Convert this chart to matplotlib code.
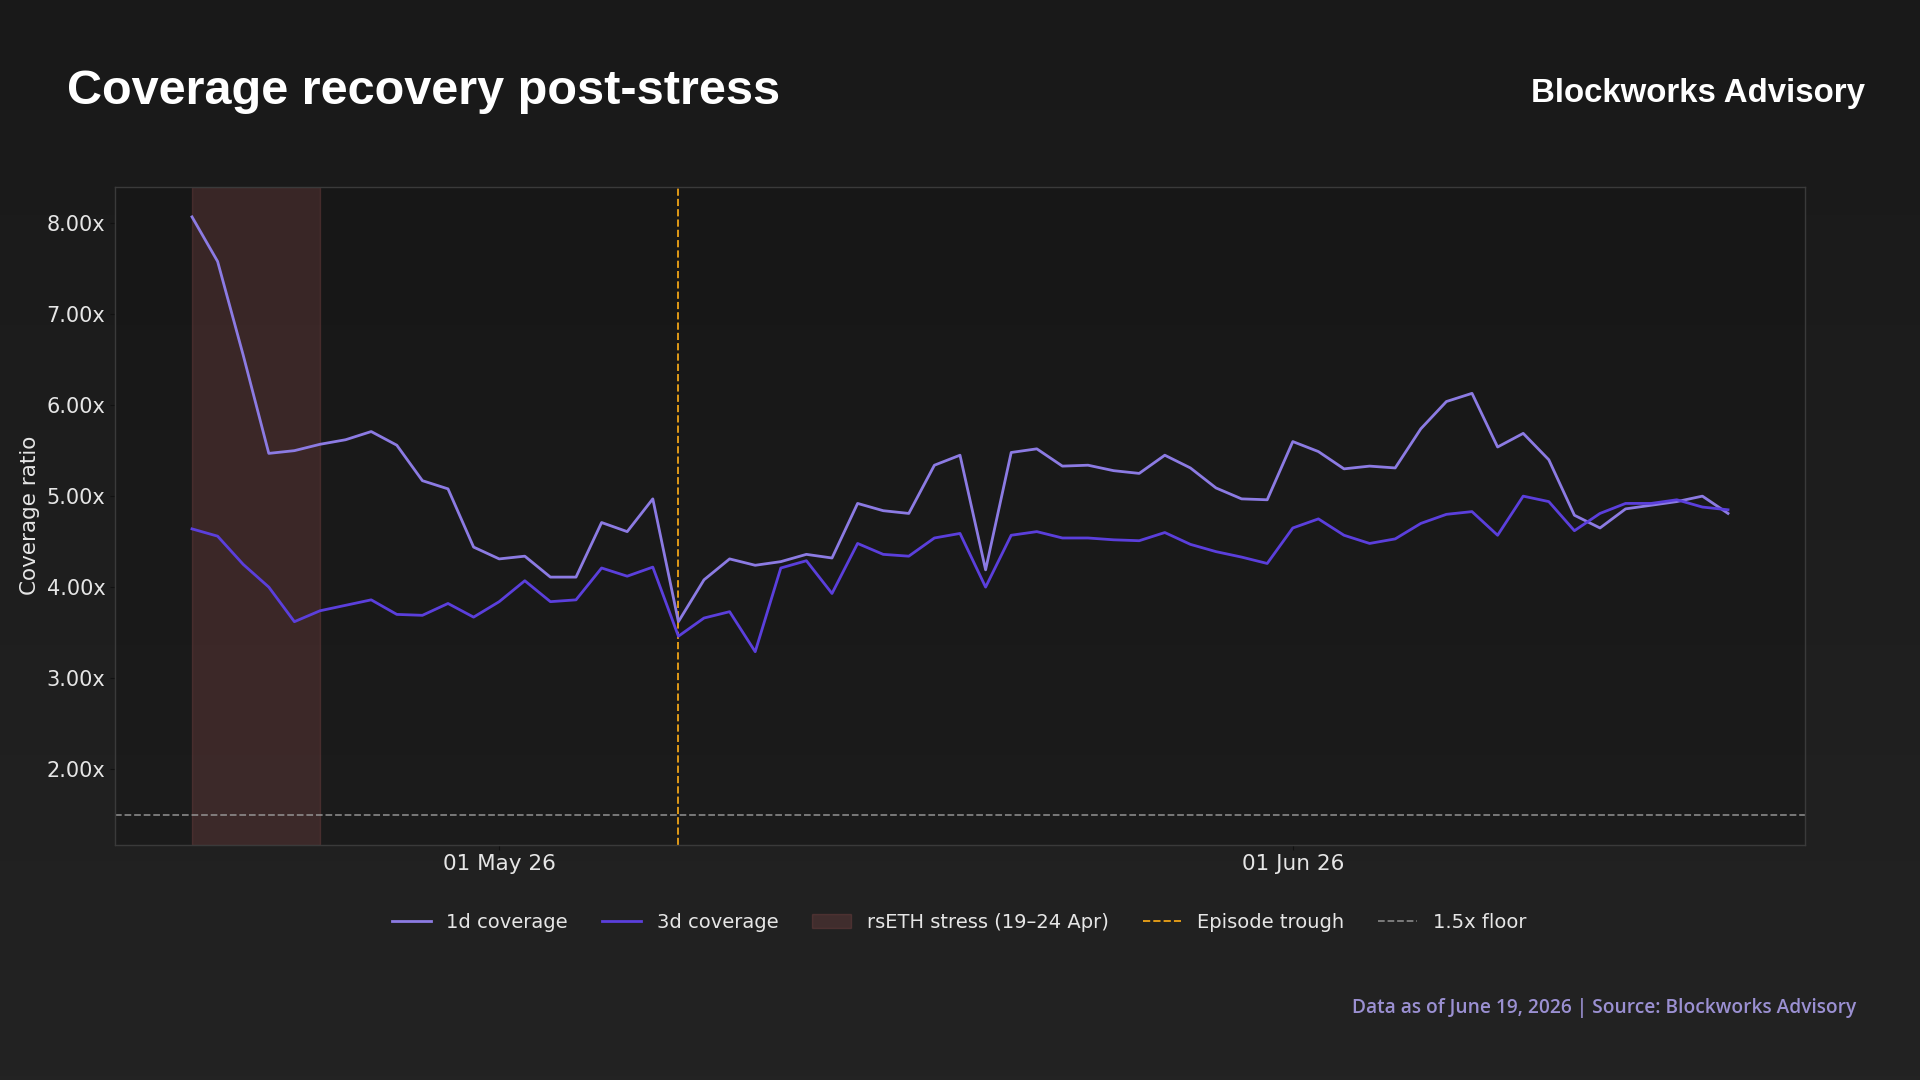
import pandas as pd
import numpy as np
import matplotlib
matplotlib.use('Agg')
import matplotlib.pyplot as plt
import matplotlib.dates as mdates
import matplotlib.ticker as mticker

plt.rcParams['font.family'] = ['DejaVu Sans']

# daily coverage ratios, 19 Apr - 18 Jun 2026
dates = pd.date_range('2026-04-19', '2026-06-18', freq='D')
cov_1d = [8.07, 7.58, 6.55, 5.47, 5.50, 5.57, 5.62, 5.71, 5.56, 5.17,
          5.08, 4.44, 4.31, 4.34, 4.11, 4.11, 4.71, 4.61, 4.97, 3.62,
          4.08, 4.31, 4.24, 4.28, 4.36, 4.32, 4.92, 4.84, 4.81, 5.34,
          5.45, 4.19, 5.48, 5.52, 5.33, 5.34, 5.28, 5.25, 5.45, 5.31,
          5.09, 4.97, 4.96, 5.60, 5.49, 5.30, 5.33, 5.31, 5.74, 6.04,
          6.13, 5.54, 5.69, 5.40, 4.79, 4.65, 4.86, 4.90, 4.94, 5.00,
          4.81]
cov_3d = [4.64, 4.56, 4.25, 4.00, 3.62, 3.74, 3.80, 3.86, 3.70, 3.69,
          3.82, 3.67, 3.84, 4.07, 3.84, 3.86, 4.21, 4.12, 4.22, 3.46,
          3.66, 3.73, 3.29, 4.21, 4.29, 3.93, 4.48, 4.36, 4.34, 4.54,
          4.59, 4.00, 4.57, 4.61, 4.54, 4.54, 4.52, 4.51, 4.60, 4.47,
          4.39, 4.33, 4.26, 4.65, 4.75, 4.57, 4.48, 4.53, 4.70, 4.80,
          4.83, 4.57, 5.00, 4.94, 4.62, 4.81, 4.92, 4.92, 4.96, 4.88,
          4.85]
stress_start = pd.Timestamp('2026-04-19')
stress_end = pd.Timestamp('2026-04-24')
trough_date = pd.Timestamp('2026-05-08')
floor_level = 1.5

fig = plt.figure(figsize=(19.2, 10.8), dpi=100)
fig.patch.set_facecolor('#1c1c1c')

# subtle vertical background gradient
bg = fig.add_axes([0, 0, 1, 1], zorder=-10)
grad = np.linspace(0, 1, 256).reshape(-1, 1)
top = np.array([0x19, 0x19, 0x19]) / 255
bot = np.array([0x23, 0x23, 0x23]) / 255
img = top + (bot - top) * grad[:, :, None]
bg.imshow(img, aspect='auto', extent=[0, 1, 0, 1])
bg.axis('off')

ax = fig.add_axes([0.060, 0.218, 0.880, 0.609])
ax.set_facecolor((0.07, 0.07, 0.07, 0.35))

ax.axvspan(stress_start, stress_end, color='#8b4a4a', alpha=0.30, lw=1,
           label='rsETH stress (19–24 Apr)', zorder=1)
ax.plot(dates, cov_1d, color='#8c7be3', lw=2.0, label='1d coverage', zorder=3)
ax.plot(dates, cov_3d, color='#5b3fdc', lw=2.0, label='3d coverage', zorder=3)
ax.axvline(trough_date, color='#e09a18', lw=1.4, ls='--', label='Episode trough', zorder=2)
ax.axhline(floor_level, color='#9a9a9a', lw=1.3, ls='--', alpha=0.8, label='1.5x floor', zorder=2)

ax.set_xlim(pd.Timestamp('2026-04-16'), pd.Timestamp('2026-06-21'))
ax.set_ylim(1.17, 8.40)
ax.set_yticks([2, 3, 4, 5, 6, 7, 8])
ax.yaxis.set_major_formatter(mticker.FuncFormatter(lambda v, p: f'{v:.2f}x'))
ax.xaxis.set_major_locator(mdates.MonthLocator(bymonthday=1))
ax.xaxis.set_major_formatter(mdates.DateFormatter('%d %b %y'))

ax.tick_params(axis='both', colors='#111111', labelcolor='#e6e6e6', labelsize=15)
ax.tick_params(axis='x', labelsize=15.5)
ax.set_ylabel('Coverage ratio', color='#e6e6e6', fontsize=15.5, labelpad=5)
for s in ax.spines.values():
    s.set_color('#3a3a3a')
    s.set_linewidth(1.0)

# legend order as in reference
h, l = ax.get_legend_handles_labels()
order = ['1d coverage', '3d coverage', 'rsETH stress (19–24 Apr)', 'Episode trough', '1.5x floor']
hm = dict(zip(l, h))
leg = fig.legend([hm[k] for k in order], order, loc='center', bbox_to_anchor=(0.4995, 0.146),
                 ncol=5, frameon=False, fontsize=14, labelcolor='#e6e6e6',
                 columnspacing=1.75, handletextpad=0.8)

fig.text(0.035, 0.904, 'Coverage recovery post-stress', color='white', fontsize=35,
         fontweight='bold', family='Liberation Sans', va='baseline', ha='left')
fig.text(0.9714, 0.906, 'Blockworks Advisory', color='white', fontsize=23.8,
         fontweight='bold', family='Liberation Sans', va='baseline', ha='right')
fig.text(0.967, 0.062, 'Data as of June 19, 2026 | Source: Blockworks Advisory',
         color='#9b90d2', fontsize=13.8, fontweight='semibold', family='Open Sans',
         va='baseline', ha='right')

plt.savefig('out.png', dpi=100, facecolor=fig.get_facecolor())
